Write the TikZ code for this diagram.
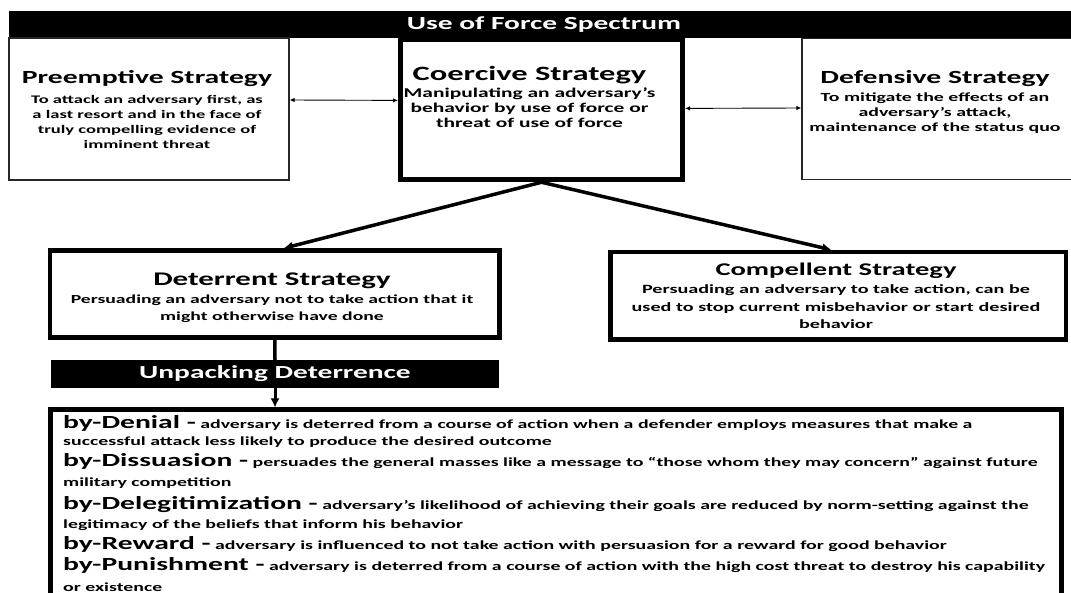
\documentclass[tikz,border=0pt]{standalone}
\usepackage{fontspec}
\setmainfont{Carlito}[FakeStretch=1.6]
\usetikzlibrary{arrows.meta}

\newcommand{\fsz}[2]{\fontsize{#1}{#2}\selectfont}
\newcommand{\boxfont}[2]{\bfseries\fontsize{#1}{#2}\selectfont\lineskiplimit=-50pt}

\begin{document}
\begin{tikzpicture}[x=1pt,y=-1pt,
  thinbox/.style={draw=black!85,line width=1.2pt,inner sep=0pt},
  thickbox/.style={draw=black,line width=4.5pt,inner sep=0pt},
  blackbar/.style={fill=black,text=white,inner sep=0pt,font=\bfseries\fsz{18.4}{22}},
  boxtext/.style={align=center,inner sep=0pt},
  sidearrow/.style={{Latex[length=5pt,width=4.5pt]}-{Latex[length=5pt,width=4.5pt]},line width=0.9pt},
  downarrow/.style={-{Latex[length=9pt,width=9pt]},line width=3.5pt}]
\useasboundingbox (0,0) rectangle (1071,593);
\fill[white] (0,0) rectangle (1071,593);

% top row
\node[blackbar,minimum width=1071pt,minimum height=27.3pt] (spectrum) at (544,24.7){Use of Force Spectrum};
\node[thinbox,minimum width=280pt,minimum height=142pt] (preempt) at (149,109){};
\node[thickbox,line width=5pt,minimum width=282pt,minimum height=140.7pt] (coercive) at (541.5,109.4){};
\node[thinbox,minimum width=283pt,minimum height=141pt] (defensive) at (943.5,109){};
\node[boxtext,anchor=north,font=\boxfont{11.6}{15}] (preempttxt) at (147,70.3){{\fsz{18.55}{15}Preemptive Strategy}\\[4.7pt]To attack an adversary first, as\\a last resort and in the face of\\truly compelling evidence of\\imminent threat};
\node[boxtext,anchor=north,font=\boxfont{13.4}{15}] (coercivetxt) at (529.5,66.5){{\fsz{20.3}{15}Coercive Strategy}\\[1.5pt]Manipulating an adversary’s\\behavior by use of force or\\threat of use of force};
\node[boxtext,anchor=north,font=\boxfont{12.4}{15}] (defensivetxt) at (935,70){{\fsz{18.55}{15}Defensive Strategy}\\[3.4pt]To mitigate the effects of an\\adversary’s attack,\\maintenance of the status quo};
\draw[sidearrow] ([yshift=9pt]preempt.east) -- ([yshift=9pt]coercive.west);
\draw[sidearrow] ([yshift=1pt]coercive.east) -- ([yshift=1pt]defensive.west);

% second row
\node[thickbox,minimum width=449.5pt,minimum height=87pt] (deterrent) at (274.75,294){};
\node[thickbox,minimum width=455.5pt,minimum height=87.5pt] (compellent) at (838.25,295.75){};
\node[boxtext,anchor=north,font=\boxfont{12.3}{17}] (deterrenttxt) at (272,272.6){{\fsz{19.3}{17}Deterrent Strategy}\\[1.5pt]Persuading an adversary not to take action that it\\might otherwise have done};
\node[boxtext,anchor=north,font=\boxfont{12.6}{17.3}] (compellenttxt) at (836,263){{\fsz{17.85}{17.3}Compellent Strategy}\\[0.7pt]Persuading an adversary to take action, can be\\used to stop current misbehavior or start desired\\behavior};
\draw[downarrow] (coercive.south) -- ([xshift=9pt]deterrent.north);
\draw[downarrow] (coercive.south) -- ([xshift=-7pt]compellent.north);

% unpacking
\node[blackbar,minimum width=448pt,minimum height=28pt] (unpack) at (275,374){Unpacking Deterrence};
\node[thickbox,line width=5pt,minimum width=1011pt,minimum height=210pt] (deterrence) at (555.5,515){};
\node[align=left,inner sep=0pt,anchor=north west,font=\boxfont{12.4}{17}] (deterrencetxt) at (63,415){%
{\fsz{18.5}{17}by-Denial -} adversary is deterred from a course of action when a defender employs measures that make a\\
successful attack less likely to produce the desired outcome\\[4pt]
{\fsz{18.5}{17}by-Dissuasion -} persuades the general masses like a message to “those whom they may concern” against future\\[3pt]
military competition\\[6pt]
{\fsz{18.5}{17}by-Delegitimization -} adversary’s likelihood of achieving their goals are reduced by norm-setting against the\\[2pt]
legitimacy of the beliefs that inform his behavior\\[4pt]
{\fsz{18.5}{17}by-Reward -} adversary is influenced to not take action with persuasion for a reward for good behavior\\[4pt]
{\fsz{18.5}{17}by-Punishment -} adversary is deterred from a course of action with the high cost threat to destroy his capability\\[4pt]
or existence};
\draw[line width=3.5pt] (deterrent.south) -- (unpack.north);
\draw[downarrow,line width=3pt] (unpack.south) -- (unpack.south |- deterrence.north);
\end{tikzpicture}
\end{document}
